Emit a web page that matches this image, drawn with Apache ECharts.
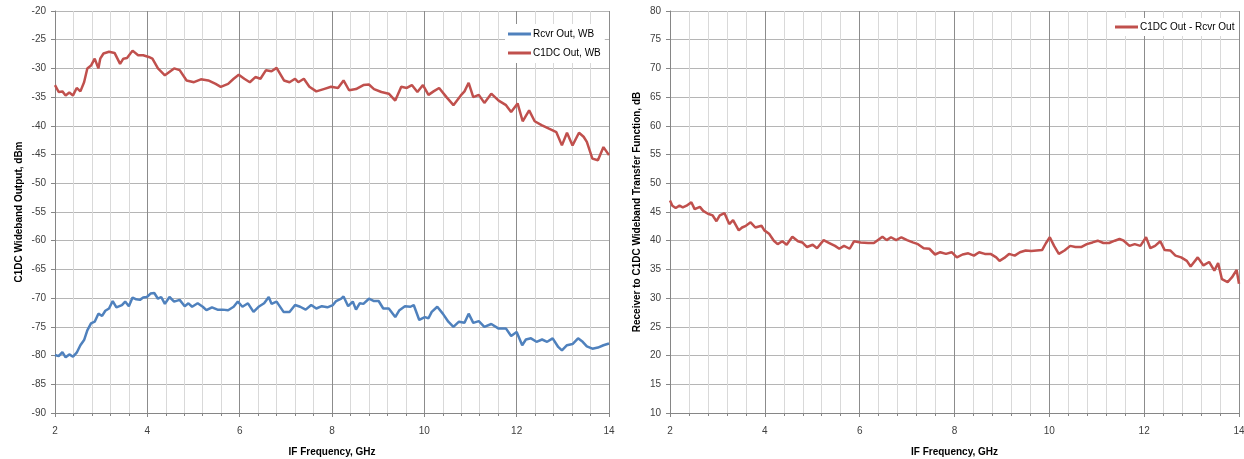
<!DOCTYPE html>
<html><head><meta charset="utf-8">
<script src="https://cdn.jsdelivr.net/npm/echarts@6/dist/echarts.min.js"></script>
<style>html,body{margin:0;padding:0;background:#fff}#c{width:1244px;height:459px}</style>
</head><body><div id="c"></div><script>
// ---- data ----
const xTicks = [2, 4, 6, 8, 10, 12, 14];
const leftYTicks = [-90, -20];
const rightYTicks = [10, 80];

const freqC1dc = [2.00,2.08,2.16,2.23,2.31,2.39,2.47,2.55,2.63,2.70,2.78,2.86,2.94,2.98,3.05,3.17,3.29,3.41,3.48,3.56,3.68,3.80,3.91,4.03,4.11,4.23,4.38,4.58,4.70,4.85,5.01,5.16,5.32,5.48,5.59,5.75,5.87,5.98,6.10,6.22,6.34,6.45,6.57,6.69,6.80,6.96,7.08,7.20,7.27,7.39,7.51,7.66,7.82,7.98,8.13,8.25,8.37,8.52,8.68,8.80,8.91,9.07,9.23,9.37,9.50,9.62,9.73,9.85,9.97,10.09,10.20,10.32,10.48,10.63,10.79,10.87,10.96,11.06,11.18,11.30,11.45,11.61,11.77,11.88,12.02,12.13,12.27,12.39,12.55,12.70,12.86,12.98,13.09,13.21,13.35,13.45,13.52,13.64,13.76,13.88,14.00];
const c1dcOut = [-32.9,-34.1,-34.0,-34.7,-34.2,-34.7,-33.4,-34.0,-32.4,-30.0,-29.5,-28.3,-30.0,-28.3,-27.4,-27.1,-27.3,-29.2,-28.3,-28.2,-26.9,-27.7,-27.7,-28.0,-28.3,-30.0,-31.2,-30.0,-30.3,-32.1,-32.4,-31.9,-32.1,-32.7,-33.2,-32.7,-31.8,-31.1,-31.8,-32.4,-31.5,-31.8,-30.3,-30.5,-29.9,-32.1,-32.4,-31.8,-32.4,-31.8,-33.2,-34.0,-33.6,-33.2,-33.4,-32.1,-33.8,-33.6,-32.9,-32.8,-33.6,-34.1,-34.4,-35.6,-33.2,-33.4,-32.9,-34.1,-32.9,-34.6,-34.0,-33.4,-35.0,-36.4,-34.7,-34.0,-32.5,-35.0,-34.6,-36.0,-34.4,-35.6,-36.4,-37.6,-36.1,-39.2,-37.3,-39.2,-39.9,-40.5,-41.1,-43.4,-41.2,-43.4,-41.2,-41.9,-42.8,-45.7,-46.0,-43.7,-45.1];

const freqRcvr = [2.00,2.08,2.16,2.23,2.31,2.39,2.47,2.55,2.63,2.70,2.78,2.86,2.94,3.02,3.09,3.17,3.25,3.33,3.45,3.52,3.60,3.68,3.76,3.84,3.91,3.99,4.07,4.15,4.23,4.30,4.38,4.48,4.58,4.70,4.81,4.89,4.97,5.09,5.20,5.28,5.40,5.52,5.63,5.75,5.87,5.96,6.06,6.18,6.30,6.41,6.53,6.63,6.69,6.80,6.95,7.08,7.20,7.31,7.43,7.55,7.66,7.78,7.90,8.02,8.09,8.20,8.25,8.35,8.45,8.52,8.60,8.68,8.80,8.91,9.01,9.11,9.23,9.37,9.46,9.58,9.70,9.77,9.89,10.01,10.09,10.16,10.28,10.40,10.52,10.63,10.75,10.87,10.96,11.06,11.18,11.30,11.45,11.61,11.77,11.88,12.00,12.12,12.20,12.31,12.43,12.55,12.66,12.78,12.90,12.98,13.09,13.21,13.33,13.43,13.52,13.64,13.76,13.88,14.00];
const rcvrOut = [-79.9,-80.1,-79.4,-80.3,-79.8,-80.2,-79.5,-78.2,-77.3,-75.6,-74.4,-74.1,-72.7,-73.1,-72.2,-71.8,-70.5,-71.6,-71.2,-70.6,-71.4,-69.9,-70.2,-70.3,-69.9,-69.8,-69.2,-69.1,-70.1,-69.8,-71.0,-69.8,-70.6,-70.3,-71.4,-70.9,-71.5,-70.9,-71.5,-72.1,-71.6,-72.0,-72.0,-72.1,-71.5,-70.6,-71.5,-70.9,-72.4,-71.5,-70.9,-69.8,-71.0,-70.6,-72.4,-72.4,-71.2,-71.5,-72.0,-71.2,-71.8,-71.4,-71.6,-71.2,-70.5,-70.1,-69.7,-71.4,-70.6,-72.0,-70.9,-71.0,-70.1,-70.5,-70.5,-71.8,-71.8,-73.3,-72.1,-71.4,-71.5,-71.2,-73.8,-73.3,-73.5,-72.4,-71.5,-72.7,-74.1,-75.0,-74.1,-74.3,-72.7,-74.3,-74.0,-75.0,-74.5,-75.3,-75.3,-76.6,-75.9,-78.2,-77.2,-77.0,-77.6,-77.2,-77.6,-77.0,-78.5,-79.1,-78.2,-78.0,-77.0,-77.6,-78.4,-78.8,-78.6,-78.2,-77.9];

const freqDiff = [2.00,2.05,2.12,2.20,2.27,2.35,2.45,2.52,2.63,2.70,2.80,2.90,2.98,3.05,3.15,3.25,3.33,3.45,3.52,3.60,3.70,3.80,3.93,3.99,4.09,4.19,4.27,4.37,4.46,4.58,4.70,4.79,4.89,5.01,5.10,5.24,5.36,5.48,5.57,5.67,5.79,5.88,6.02,6.18,6.30,6.38,6.48,6.57,6.66,6.77,6.88,7.00,7.12,7.23,7.35,7.47,7.59,7.70,7.82,7.94,8.05,8.17,8.29,8.41,8.52,8.64,8.76,8.88,8.95,9.05,9.15,9.27,9.38,9.50,9.62,9.73,9.85,9.93,10.01,10.10,10.20,10.32,10.44,10.55,10.67,10.79,10.91,11.02,11.14,11.26,11.38,11.48,11.57,11.69,11.80,11.92,12.04,12.13,12.23,12.34,12.43,12.55,12.66,12.78,12.90,12.98,13.13,13.25,13.37,13.48,13.56,13.64,13.76,13.85,13.95,14.00];
const diffOut = [47.0,46.1,45.7,46.1,45.8,46.1,46.7,45.5,45.9,45.2,44.7,44.4,43.4,44.4,44.8,42.9,43.6,41.8,42.3,42.6,43.2,42.3,42.6,41.8,41.2,40.0,39.4,39.9,39.3,40.7,39.9,39.7,38.9,39.3,38.7,40.1,39.6,39.1,38.6,39.1,38.6,39.9,39.7,39.6,39.6,40.1,40.7,40.1,40.6,40.1,40.6,40.1,39.7,39.4,38.7,38.6,37.6,38.0,37.7,38.0,37.1,37.6,37.8,37.4,38.0,37.7,37.7,37.1,36.5,37.0,37.7,37.4,38.0,38.3,38.2,38.3,38.4,39.6,40.6,39.1,37.7,38.3,39.1,38.9,38.9,39.4,39.7,40.0,39.6,39.6,40.0,40.3,40.0,39.1,39.4,39.1,40.6,38.7,39.1,39.9,38.4,38.3,37.4,37.1,36.5,35.5,37.1,35.7,36.3,34.8,36.1,33.3,32.8,33.6,34.9,32.5];

const seriesNames = ['Rcvr Out, WB', 'C1DC Out, WB', 'C1DC Out - Rcvr Out'];
const colors = { blue: '#4f81bd', red: '#c0504d' };

// ---- helpers ----
const zip = (xs, ys) => xs.map((x, i) => [x, ys[i]]);
const FONT = 'Liberation Sans, Arial, sans-serif';
const labelColor = '#404040';

function xAxis(gi) {
  return {
    type: 'value', gridIndex: gi, min: xTicks[0], max: xTicks[xTicks.length - 1], interval: 2,
    name: 'IF Frequency, GHz', nameLocation: 'middle', nameGap: 34,
    nameTextStyle: { fontFamily: FONT, fontSize: 10, fontWeight: 'bold', color: '#000' },
    axisLine: { show: true, lineStyle: { color: '#868686', width: 1 } },
    axisTick: { show: true, inside: false, length: 4, lineStyle: { color: '#868686' } },
    minorTick: { show: true, splitNumber: 5, length: 3, lineStyle: { color: '#868686' } },
    splitLine: { show: true, lineStyle: { color: '#8c8c8c', width: 1 } },
    minorSplitLine: { show: true, lineStyle: { color: '#d9d9d9', width: 1 } },
    axisLabel: { margin: 13, fontFamily: FONT, fontSize: 10, color: labelColor }
  };
}
function yAxis(gi, ticks, name, weight, gap) {
  return {
    type: 'value', gridIndex: gi, min: ticks[0], max: ticks[1], interval: 5,
    name: name, nameLocation: 'middle', nameGap: gap,
    nameTextStyle: { fontFamily: FONT, fontSize: 10, fontWeight: weight, color: '#000' },
    axisLine: { show: true, lineStyle: { color: '#868686', width: 1 } },
    axisTick: { show: true, inside: false, length: 4, lineStyle: { color: '#868686' } },
    splitLine: { show: true, lineStyle: { color: '#b5b5b5', width: 1 } },
    axisLabel: { margin: 9, fontFamily: FONT, fontSize: 10, color: labelColor }
  };
}
const legendBase = {
  orient: 'vertical', backgroundColor: '#ffffff', icon: 'rect',
  itemWidth: 23, itemHeight: 3, itemGap: 9, padding: [5, 4, 5, 3],
  textStyle: { fontFamily: FONT, fontSize: 10, color: '#000', padding: [0, 0, 0, -3] }
};
function lineSeries(name, data, color, xi, yi) {
  return {
    name, type: 'line', data, xAxisIndex: xi, yAxisIndex: yi,
    showSymbol: false, symbol: 'none', smooth: false,
    lineStyle: { color, width: 2.5 }, itemStyle: { color }, z: 3
  };
}

const chart = echarts.init(document.getElementById('c'), null, { renderer: 'canvas' });
chart.setOption({
  animation: false,
  backgroundColor: '#fff',
  grid: [
    { left: 55, right: 635, top: 11, bottom: 46, containLabel: false, outerBoundsMode: 'none' },
    { left: 670, right: 5, top: 11, bottom: 46, containLabel: false, outerBoundsMode: 'none' }
  ],
  xAxis: [xAxis(0), xAxis(1)],
  yAxis: [
    yAxis(0, leftYTicks, 'C1DC Wideband Output, dBm', 'bold', 31),
    yAxis(1, rightYTicks, 'Receiver to C1DC Wideband Transfer Function, dB', 'bold', 28)
  ],
  legend: [
    Object.assign({}, legendBase, { data: [seriesNames[0], seriesNames[1]], left: 505, top: 24 }),
    Object.assign({}, legendBase, { data: [seriesNames[2]], left: 1112, top: 18, padding: [4, 4, 4, 3] })
  ],
  series: [
    lineSeries(seriesNames[0], zip(freqRcvr, rcvrOut), colors.blue, 0, 0),
    lineSeries(seriesNames[1], zip(freqC1dc, c1dcOut), colors.red, 0, 0),
    lineSeries(seriesNames[2], zip(freqDiff, diffOut), colors.red, 1, 1)
  ]
});
</script></body></html>
